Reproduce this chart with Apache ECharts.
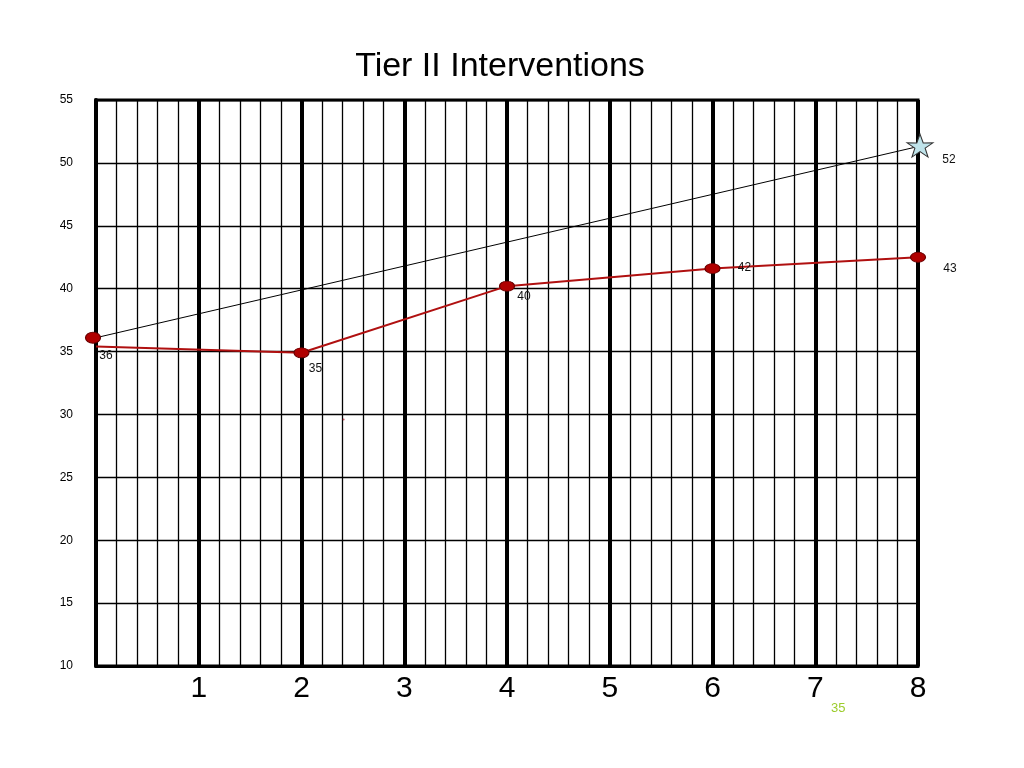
<!DOCTYPE html>
<html><head><meta charset="utf-8">
<script src="https://cdn.jsdelivr.net/npm/echarts@6/dist/echarts.min.js"></script>
<style>html,body{margin:0;padding:0;background:#fff}#c{width:1024px;height:768px}</style>
</head><body><div id="c"></div>
<script>
const title = 'Tier II Interventions';
const weeks = [0, 2, 4, 6, 8];
const scores = [35.4, 34.9, 40.2, 41.6, 42.5];
const scoreLabels = ['', '35', '40', '42', '43'];
const aimWeeks = [0, 8];
const aimScores = [36.1, 51.3];
const aimLabels = ['36', '52'];
const xTicks = ['', '1', '2', '3', '4', '5', '6', '7', '8'];
const strayDot = [2.41, 29.6];
const footnote = '35';

const font = 'Liberation Sans, Arial, sans-serif';
const chart = echarts.init(document.getElementById('c'));

const redData = weeks.map((w, i) => ({
  value: [w, scores[i]],
  symbolSize: i === 0 ? 0 : [15, 10],
  label: {
    show: !!scoreLabels[i], formatter: scoreLabels[i],
    position: 'inside',
    offset: i === 1 ? [14, 16] : i === 2 ? [17, 11] : [32, 0 + (i === 4 ? 11 : -1)]
  }
}));
const aimData = aimWeeks.map((w, i) => ({
  value: [w, aimScores[i]],
  symbol: i === 0 ? 'circle' : 'path://M50,0 L61.8,35.1 L97.6,34.5 L68.8,55.9 L79.4,90.5 L50,69.5 L20.6,90.5 L31.2,55.9 L2.4,34.5 L38.2,35.1 Z',
  symbolSize: i === 0 ? [15, 11] : [26, 23],
  symbolOffset: i === 0 ? [-3, 0] : [2, -1],
  itemStyle: i === 0 ? { color: '#b00000', borderColor: '#6a0000', borderWidth: 1 }
                     : { color: '#bfe3ea', borderColor: '#333', borderWidth: 1 },
  label: { show: true, formatter: aimLabels[i], position: 'inside',
           offset: i === 0 ? [13, 18] : [29, 14] }
}));

chart.setOption({
  animation: false,
  backgroundColor: '#fff',
  title: { text: title, left: 495, textAlign: 'center', top: 45,
           textStyle: { fontFamily: font, fontSize: 34, fontWeight: 'normal', color: '#000' } },
  grid: { left: 96, right: 106, top: 100, bottom: 102, show: true,
          borderColor: '#000', borderWidth: 3, backgroundColor: 'transparent' },
  xAxis: {
    type: 'value', min: 0, max: 8, interval: 1,
    axisLine: { show: true, lineStyle: { color: '#000', width: 3 } },
    axisTick: { show: false },
    axisLabel: { formatter: v => xTicks[v] || '', fontFamily: font, fontSize: 30,
                 color: '#000', margin: 8 },
    splitLine: { show: true, lineStyle: { color: '#000', width: 4 } },
    minorTick: { show: false, splitNumber: 5 },
    minorSplitLine: { show: true, lineStyle: { color: '#000', width: 1.3 } }
  },
  yAxis: {
    type: 'value', min: 10, max: 55, interval: 5,
    axisLine: { show: true, lineStyle: { color: '#000', width: 4 } },
    axisTick: { show: false },
    axisLabel: { fontFamily: font, fontSize: 12, color: '#000', margin: 23 },
    splitLine: { show: true, lineStyle: { color: '#000', width: 1.3 } }
  },
  series: [
    { type: 'line', data: aimData, lineStyle: { color: '#000', width: 1 },
      label: { fontFamily: font, fontSize: 12, color: '#111' }, z: 3 },
    { type: 'line', data: redData, symbol: 'circle',
      lineStyle: { color: '#b01010', width: 2 },
      itemStyle: { color: '#b00000', borderColor: '#6a0000', borderWidth: 1 },
      label: { fontFamily: font, fontSize: 12, color: '#111' }, z: 4 },
    { type: 'scatter', data: [strayDot], symbolSize: 2,
      itemStyle: { color: '#b03040' }, silent: true }
  ],
  graphic: [
    { type: 'text', left: 831, top: 702,
      style: { text: footnote, fill: '#9ccc2c', fontFamily: font, fontSize: 13 } }
  ]
});
</script></body></html>
